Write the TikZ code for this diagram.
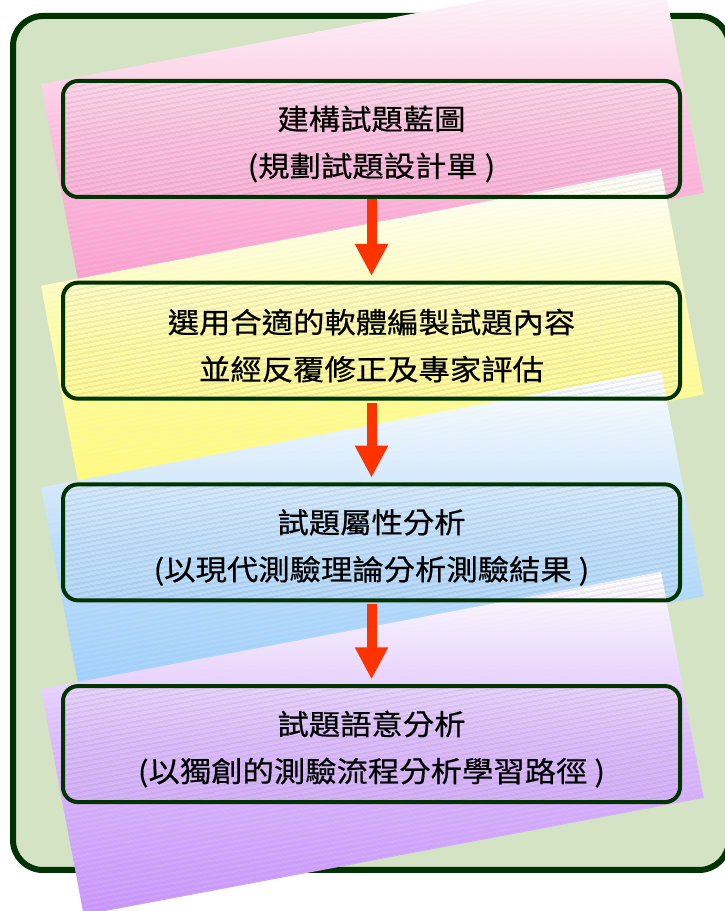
\documentclass[tikz,border=0pt]{standalone}
\usepackage{fontspec}
\usepackage{tikz}
\usetikzlibrary{arrows.meta, patterns.meta, positioning, shapes}
\newfontfamily\cjkfont[FakeStretch=1.1, FakeBold=0.6]{Noto Sans CJK TC}
\definecolor{framegreen}{rgb}{0.0, 0.2, 0.0}
\definecolor{panelgreen}{rgb}{0.83, 0.89, 0.77}
\definecolor{cardpink}{rgb}{0.98, 0.6, 0.8}
\definecolor{cardyellow}{rgb}{1.0, 0.98, 0.45}
\definecolor{cardblue}{rgb}{0.6, 0.8, 0.98}
\definecolor{cardpurple}{rgb}{0.78, 0.58, 0.98}
\definecolor{arrowred}{rgb}{1.0, 0.2, 0.0}

\begin{document}
\begin{tikzpicture}[x=1pt, y=1pt,
		stagebox/.style={draw=framegreen, line width=4pt, rounded corners=15pt,
			minimum width=617pt, minimum height=116pt, align=center,
			pattern={Lines[angle=10.7, distance=4pt, line width=0.45pt]}, pattern color=black!50},
		steptext/.style={align=center, font=\cjkfont\fontsize{28.5}{47}\selectfont},
		card/.style={rotate around={10.7:#1}},
		cardlines/.style={pattern={Lines[angle=10.7, distance=4pt, line width=0.4pt]}, pattern color=black!8},
		flow/.style={line width=10pt, arrowred, -{Triangle[width=31pt, length=32pt]},
			shorten <=2pt, shorten >=4.7pt}]
		\useasboundingbox (0,0) rectangle (725,911);
		\clip (0,0) rectangle (725,911);
		%% outer panel
		\draw [line width=6pt, framegreen, fill=panelgreen, rounded corners=30pt] (13,41) rectangle (729,895);
		%% tilted cards
		\shade [card={(41,827)}, top color=white, bottom color=cardpink, middle color=cardpink!65] (41,827) rectangle ++(631,-230);
		\path [card={(41,827)}, cardlines] (41,827) rectangle ++(631,-230);
		\shade [card={(41,625.3)}, top color=white, bottom color=cardyellow, middle color=cardyellow!65] (41,625.3) rectangle ++(631,-230);
		\path [card={(41,625.3)}, cardlines] (41,625.3) rectangle ++(631,-230);
		\shade [card={(41,423.6)}, top color=white, bottom color=cardblue, middle color=cardblue!65] (41,423.6) rectangle ++(631,-230);
		\path [card={(41,423.6)}, cardlines] (41,423.6) rectangle ++(631,-230);
		\shade [card={(41,221.9)}, top color=white, bottom color=cardpurple, middle color=cardpurple!65] (41,221.9) rectangle ++(631,-230);
		\path [card={(41,221.9)}, cardlines] (41,221.9) rectangle ++(631,-230);
		%% steps
		\node [stagebox] (blueprint) at (371.5,772) {};
		\node [stagebox] (authoring) at (371.5,570.3) {};
		\node [stagebox] (attribute) at (371.5,368.6) {};
		\node [stagebox] (semantic) at (371.5,166.9) {};
		\node [steptext] (blueprint text) at ([yshift=-5pt]blueprint.center) {建構試題藍圖\\(規劃試題設計單 )};
		\node [steptext] (authoring text) at ([yshift=-5pt]authoring.center) {選用合適的軟體編製試題內容\\並經反覆修正及專家評估};
		\node [steptext] (attribute text) at ([yshift=-5pt]attribute.center) {試題屬性分析\\(以現代測驗理論分析測驗結果 )};
		\node [steptext] (semantic text) at ([yshift=-5pt]semantic.center) {試題語意分析\\(以獨創的測驗流程分析學習路徑 )};
		\draw [flow] (blueprint) -- (authoring);
		\draw [flow] (authoring) -- (attribute);
		\draw [flow] (attribute) -- (semantic);
\end{tikzpicture}
\end{document}
